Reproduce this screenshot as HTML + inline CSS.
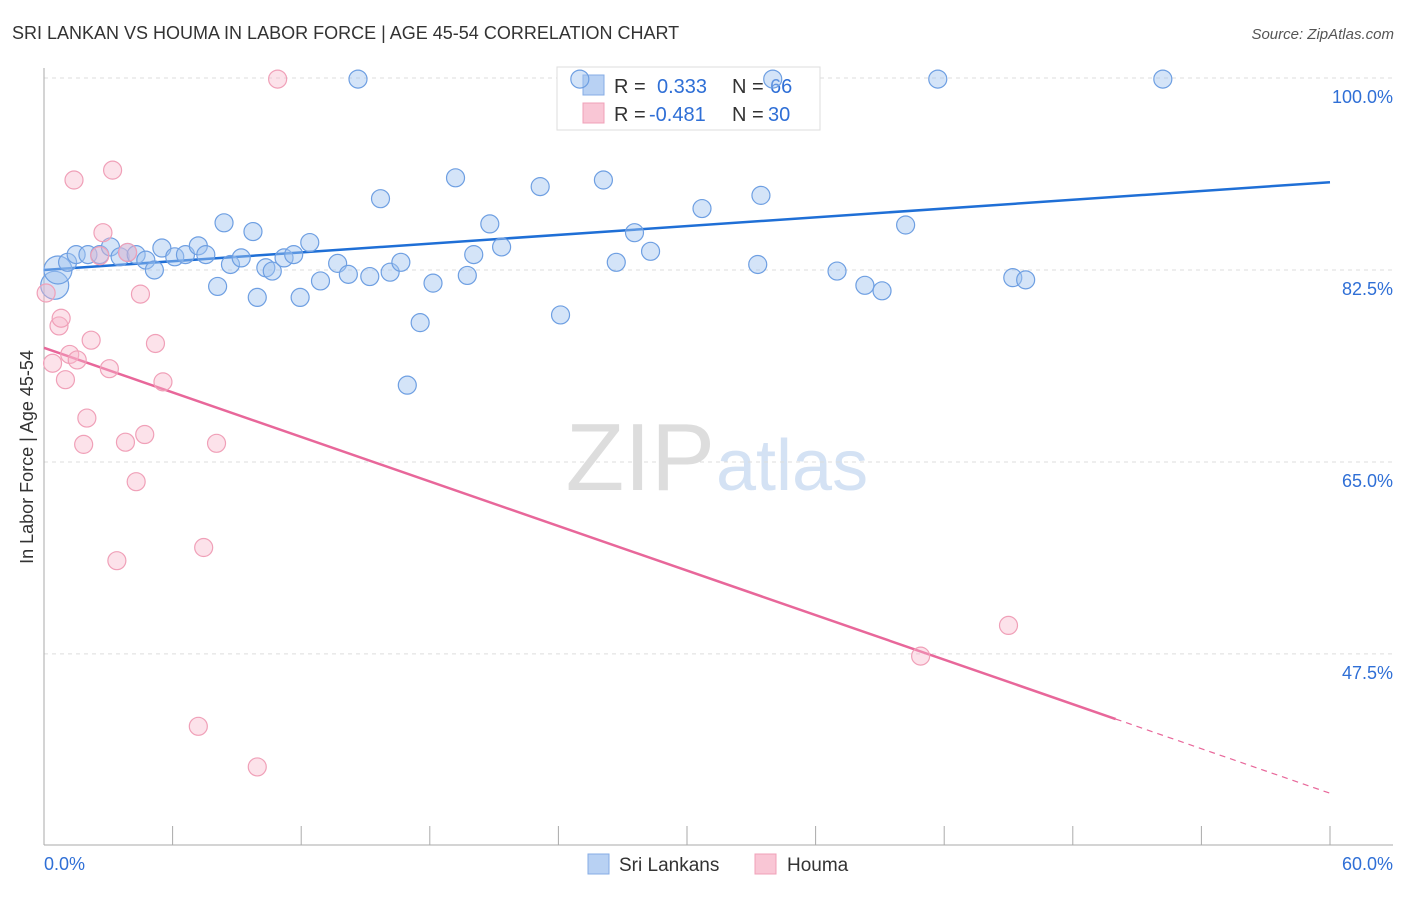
<!DOCTYPE html>
<html><head><meta charset="utf-8"><style>
body{margin:0;background:#fff;font-family:"Liberation Sans",sans-serif}
svg text{font-family:"Liberation Sans",sans-serif}
</style></head><body>
<svg id="chart" width="1406" height="892" xmlns="http://www.w3.org/2000/svg">
<text x="12" y="39" font-size="18" fill="#333">SRI LANKAN VS HOUMA IN LABOR FORCE | AGE 45-54 CORRELATION CHART</text>
<text x="1394" y="39" font-size="15" fill="#555" text-anchor="end" font-style="italic">Source: ZipAtlas.com</text>
<text x="715" y="490" font-size="96" fill="#ddd" text-anchor="end" font-family="Liberation Serif">ZIP</text>
<text x="716" y="490" font-size="72" fill="#d4e2f4">atlas</text>
<text transform="translate(33,457) rotate(-90)" font-size="18" fill="#333" text-anchor="middle">In Labor Force | Age 45-54</text>
<g id="grid"></g><g id="axes"></g><g id="trend"></g>
<g>
<rect x="557" y="67" width="263" height="63" fill="#fff" stroke="#ddd"/>
<rect x="583" y="75" width="21" height="20" fill="#b8d1f3" stroke="#86ace6"/>
<rect x="583" y="103" width="21" height="20" fill="#f9c6d5" stroke="#f0a0b8"/>
<text x="614" y="93" font-size="20" fill="#333">R = </text><text x="657" y="93" font-size="20" fill="#2f6fd6">0.333</text>
<text x="732" y="93" font-size="20" fill="#333">N = </text><text x="770" y="93" font-size="20" fill="#2f6fd6">66</text>
<text x="614" y="121" font-size="20" fill="#333">R = </text><text x="649" y="121" font-size="20" fill="#2f6fd6">-0.481</text>
<text x="732" y="121" font-size="20" fill="#333">N = </text><text x="768" y="121" font-size="20" fill="#2f6fd6">30</text>
</g>
<g id="pts"></g>
<g>
<rect x="588" y="854" width="21" height="20" fill="#b8d1f3" stroke="#86ace6"/>
<text x="619" y="871" font-size="19" fill="#333">Sri Lankans</text>
<rect x="755" y="854" width="21" height="20" fill="#f9c6d5" stroke="#f0a0b8"/>
<text x="787" y="871" font-size="19" fill="#333">Houma</text>
</g>
</svg>
<script>
const yTicks=[47.5,65.0,82.5,100.0];
const xTickLabels=["0.0%","60.0%"];
const blueX=[0.5,0.65,1.1,1.5,2.05,2.6,3.1,3.55,3.9,4.3,4.75,5.15,5.5,6.1,6.6,7.2,7.55,8.1,8.4,8.7,9.2,9.75,9.95,10.35,10.65,11.2,11.65,11.95,12.4,12.9,13.7,14.2,14.65,15.2,15.7,16.15,16.65,16.95,17.55,18.15,19.2,19.75,20.05,20.8,21.35,23.15,24.1,25.0,26.1,26.7,27.55,28.3,30.7,33.3,33.45,34.0,37.0,38.3,39.1,40.2,41.7,45.2,45.8,52.2];
const blueY=[81.1,82.5,83.2,83.9,83.9,83.9,84.6,83.7,84.1,83.9,83.4,82.5,84.5,83.7,83.9,84.7,83.9,81.0,86.8,83.0,83.6,86.0,80.0,82.7,82.4,83.6,83.9,80.0,85.0,81.5,83.1,82.1,99.9,81.9,89.0,82.3,83.2,72.0,77.7,81.3,90.9,82.0,83.9,86.7,84.6,90.1,78.4,99.9,90.7,83.2,85.9,84.2,88.1,83.0,89.3,99.9,82.4,81.1,80.6,86.6,99.9,81.8,81.6,99.9];
const pinkX=[0.1,0.4,0.7,0.8,1.0,1.2,1.4,1.55,1.85,2.0,2.2,2.6,2.75,3.05,3.2,3.4,3.8,3.9,4.3,4.5,4.7,5.2,5.55,7.2,7.45,8.05,9.95,10.9,40.9,45.0];
const pinkY=[80.4,74.0,77.4,78.1,72.5,74.8,90.7,74.3,66.6,69.0,76.1,83.8,85.9,73.5,91.6,56.0,66.8,84.1,63.2,80.3,67.5,75.8,72.3,40.9,57.2,66.7,37.2,99.9,47.3,50.1];
const blueTrend=[82.5,90.5];
const pinkTrend=[75.4,34.8];
const pinkSolidEnd=50;
const NS="http://www.w3.org/2000/svg";
const X=v=>44+v/60*1286, Y=v=>78+(100-v)*10.97;
function mk(tag,attrs,parent){const e=document.createElementNS(NS,tag);for(const k in attrs)e.setAttribute(k,attrs[k]);parent.appendChild(e);return e;}
const grid=document.getElementById('grid'),axes=document.getElementById('axes'),trend=document.getElementById('trend'),pts=document.getElementById('pts');
yTicks.forEach(t=>{
 const l=mk('line',{x1:44,x2:1393,y1:Y(t),y2:Y(t),stroke:'#ddd','stroke-dasharray':'4,4'},grid);
 
 
 const tx=mk('text',{x:1393,y:Y(t)+25,'font-size':18,fill:'#2f6fd6','text-anchor':'end'},grid);
 tx.textContent=t.toFixed(1)+'%';
 
 
});
const ya=mk('line',{x1:44,x2:44,y1:68,y2:845,stroke:'#aaa'},axes);


const xa=mk('line',{x1:44,x2:1393,y1:845,y2:845,stroke:'#aaa'},axes);


for(let i=1;i<=10;i++){const t=mk('line',{x1:X(i*6),x2:X(i*6),y1:826,y2:845,stroke:'#aaa'},axes);
 
 }
[[0,'start',xTickLabels[0]],[60,'end',xTickLabels[1]]].forEach(([v,a,s])=>{const t=mk('text',{x:v==0?X(v):1393,y:870,'font-size':18,fill:'#2f6fd6','text-anchor':a},axes);t.textContent=s;
 
 });
const bl=mk('line',{x1:X(0),y1:Y(blueTrend[0]),x2:X(60),y2:Y(blueTrend[1]),stroke:'#1f6fd6','stroke-width':2.5},trend);


const py=x=>pinkTrend[0]+(pinkTrend[1]-pinkTrend[0])*x/60;
const pl=mk('line',{x1:X(0),y1:Y(py(0)),x2:X(pinkSolidEnd),y2:Y(py(pinkSolidEnd)),stroke:'#e8679a','stroke-width':2.5},trend);


const pd=mk('line',{x1:X(pinkSolidEnd),y1:Y(py(pinkSolidEnd)),x2:X(60),y2:Y(py(60)),stroke:'#e8679a','stroke-width':1.2,'stroke-dasharray':'6,5'},trend);


blueX.forEach((x,i)=>{const c=mk('circle',{cx:X(x),cy:Y(blueY[i]),r:i<2?14:9,fill:'rgba(160,195,240,0.45)',stroke:'#6e9fe2','stroke-width':1.2},pts);
 
 });
pinkX.forEach((x,i)=>{const c=mk('circle',{cx:X(x),cy:Y(pinkY[i]),r:9,fill:'rgba(248,182,202,0.4)',stroke:'#f0a0b8','stroke-width':1.2},pts);
 
 });
</script>
</body></html>
